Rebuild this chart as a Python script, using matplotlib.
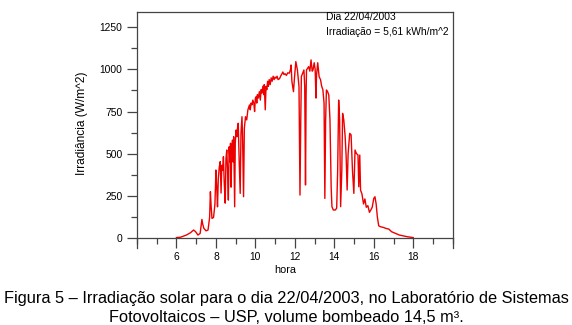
#!/usr/bin/env python3
# -*- coding: utf-8 -*-
"""Irradiância solar ao longo do dia 22/04/2003 (LSF-USP)."""

import matplotlib
matplotlib.use("Agg")
import matplotlib.pyplot as plt
from matplotlib.ticker import MultipleLocator

plt.rcParams["font.family"] = ["Liberation Sans", "DejaVu Sans"]

# dados (hora, W/m^2)
hora = [
    # manhã
    6.0, 6.2, 6.5, 6.7, 6.87, 6.97, 7.09, 7.2, 7.29, 7.33,
    7.39, 7.5, 7.6, 7.68, 7.72, 7.76, 7.8, 7.88, 7.95,
    8.0, 8.04, 8.08, 8.12, 8.17, 8.22, 8.26, 8.3, 8.34, 8.38,
    8.42, 8.47, 8.51, 8.55, 8.59, 8.63, 8.67, 8.71, 8.74, 8.77,
    8.8, 8.84, 8.87, 8.9, 8.93, 8.95, 8.98, 9.02, 9.06, 9.1,
    9.13, 9.18, 9.23, 9.27, 9.32, 9.35, 9.38, 9.4, 9.44, 9.5,
    9.56, 9.62, 9.67,
    # fim da manhã
    9.7, 9.74, 9.78, 9.83, 9.87, 9.92, 9.96, 10.0, 10.04, 10.07,
    10.1, 10.15, 10.2, 10.25, 10.29, 10.33, 10.38, 10.42, 10.45, 10.5,
    10.54, 10.58, 10.62, 10.66, 10.7, 10.75, 10.8, 10.85, 10.9, 10.95,
    11.0, 11.05, 11.1, 11.15, 11.22, 11.3, 11.35, 11.39, 11.45, 11.5,
    11.57, 11.64, 11.72, 11.78, 11.81, 11.85, 11.93, 11.98, 12.05, 12.13,
    12.21,
    # meio-dia
    12.26, 12.3, 12.33, 12.4, 12.46, 12.5, 12.54, 12.57, 12.59, 12.7,
    12.76, 12.82, 12.88, 12.92, 12.98, 13.03, 13.07, 13.1, 13.16, 13.23,
    13.3, 13.36, 13.42, 13.48, 13.52, 13.56, 13.6, 13.66, 13.72,
    # tarde
    13.78, 13.84, 13.88, 13.95, 14.05, 14.12, 14.17, 14.22, 14.27, 14.32,
    14.38, 14.42, 14.48, 14.55, 14.6, 14.65, 14.7, 14.78, 14.85, 14.92,
    14.99, 15.05, 15.12, 15.2, 15.24, 15.29, 15.33, 15.4, 15.48, 15.55,
    15.62, 15.7, 15.78, 15.85, 15.92, 16.0, 16.06, 16.12, 16.18, 16.25,
    16.35, 16.5, 16.6, 16.77, 16.9, 17.1, 17.3, 17.5, 17.7, 17.9,
    18.0,
]
irradiancia = [
    # manhã
    0, 2, 15, 28, 45, 35, 15, 25, 108, 80,
    55, 40, 45, 120, 273, 180, 114, 120, 200,
    402, 300, 183, 350, 420, 452, 265, 430, 400, 481,
    330, 205, 470, 521, 400, 223, 540, 450, 561, 300,
    520, 580, 450, 600, 350, 183, 560, 640, 600, 660,
    680, 450, 263, 620, 719, 600, 400, 243, 650, 719,
    700, 760, 779,
    # fim da manhã
    789, 760, 800, 790, 818, 800, 750, 830, 838, 800,
    850, 830, 868, 818, 880, 860, 900, 850, 910, 760,
    900, 880, 930, 900, 940, 910, 950, 930, 960, 940,
    955, 948, 960, 940, 945, 965, 975, 985, 970, 975,
    965, 980, 978, 1000, 1027, 930, 868, 950, 1047, 997,
    898,
    # meio-dia
    253, 700, 958, 980, 997, 900, 313, 850, 997, 1017,
    990, 1057, 990, 997, 1040, 1000, 830, 967, 1040, 957,
    940, 900, 880, 800, 233, 700, 878, 868, 848,
    # tarde
    700, 300, 184, 164, 164, 175, 400, 818, 700, 184,
    400, 739, 700, 600, 481, 283, 500, 620, 611, 400,
    263, 521, 500, 491, 302, 491, 282, 260, 200, 230,
    180, 190, 150, 164, 180, 233, 243, 200, 124, 70,
    64, 60, 55, 50, 35, 25, 15, 10, 5, 2,
    0,
]

xticks = [6, 8, 10, 12, 14, 16, 18]
yticks = [0, 250, 500, 750, 1000, 1250]

texto_info = ["Dia 22/04/2003", "Irradiação = 5,61 kWh/m^2"]
legenda = [
    "Figura 5 – Irradiação solar para o dia 22/04/2003, no Laboratório de Sistemas",
    "Fotovoltaicos – USP, volume bombeado 14,5 m³.",
]

W, H = 572, 325
SPINE = "#444444"


def main():
    fig = plt.figure(figsize=(W / 100, H / 100), dpi=100)
    fig.patch.set_facecolor("white")

    # caixa em pixels -> frações da figura
    left, right, top, bottom = 137, 452.7, 12, 248
    ax = fig.add_axes([left / W, 1 - bottom / H, (right - left) / W, (bottom - top) / H])

    ax.plot(hora, irradiancia, color="#ee0000", lw=1.0)

    # eixo x passa pelo zero
    ax.spines["bottom"].set_position(("data", 0))
    for s in ax.spines.values():
        s.set_color(SPINE)
        s.set_linewidth(0.9)

    ax.set_xticks(xticks)
    ax.xaxis.set_minor_locator(MultipleLocator(1))
    ax.set_yticks(yticks)
    ax.yaxis.set_minor_locator(MultipleLocator(125))
    ax.set_xlim(4, 20)
    ax.set_ylim(-62, 1342)
    ax.tick_params(which="major", direction="out", length=7, width=0.9,
                   color=SPINE, labelsize=7.4, pad=3.5)
    ax.tick_params(which="minor", direction="out", length=4, width=0.9, color=SPINE)

    for i, t in enumerate(texto_info):
        fig.text(325.7 / W, 1 - (17 + 15 * i) / H, t, fontsize=7.4,
                 ha="left", va="center")

    fig.text(81.7 / W, 1 - 123 / H, "Irradiância (W/m^2)", rotation=90,
             fontsize=8.6, ha="center", va="center")
    fig.text(285 / W, 1 - 270 / H, "hora", fontsize=7.8, ha="center", va="center")

    # legenda da figura (duas linhas centradas)
    for i, t in enumerate(legenda):
        fig.text(0.5, 1 - (303.3 + 18.4 * i) / H, t, fontsize=11.8,
                 ha="center", va="baseline")

    fig.savefig("out.png", dpi=100)
    plt.close(fig)


if __name__ == "__main__":
    main()
